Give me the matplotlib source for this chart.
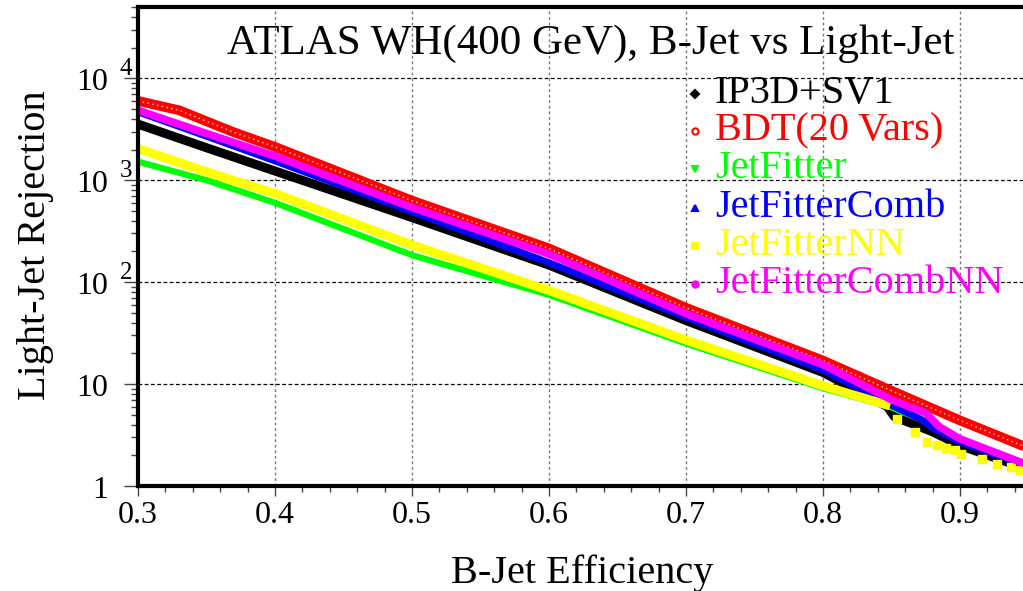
import matplotlib.pyplot as plt
import numpy as np
from matplotlib.ticker import FixedLocator, LogLocator, NullFormatter

plt.rcParams['font.family'] = ['Liberation Serif', 'DejaVu Serif']

# b-tagging performance curves: light-jet rejection vs b-jet efficiency
eff_ip3d = [0.30, 0.35, 0.40, 0.50, 0.60, 0.70, 0.80, 0.847, 0.852, 0.88, 0.90, 0.95]
rej_ip3d = [3550, 2080, 1230, 430, 147, 42, 13.0, 6.0, 4.8, 3.4, 2.5, 1.45]

eff_bdt = [0.30, 0.33, 0.37, 0.40, 0.50, 0.60, 0.70, 0.80, 0.85, 0.90, 0.95]
rej_bdt = [6000, 4850, 2950, 2120, 630, 214, 56, 17, 8.6, 4.4, 2.35]

eff_jf = [0.30, 0.35, 0.40, 0.50, 0.60, 0.70, 0.80, 0.85, 0.873]
rej_jf = [1520, 1000, 600, 184, 75, 25, 9.1, 5.9, 4.4]

eff_jfcomb = [0.30, 0.35, 0.40, 0.50, 0.60, 0.70, 0.80, 0.85, 0.873, 0.88, 0.90, 0.95]
rej_jfcomb = [4680, 2700, 1545, 490, 155, 45, 13.7, 6.2, 4.4, 3.7, 2.7, 1.55]

eff_jfnn = [0.30, 0.35, 0.40, 0.50, 0.60, 0.70, 0.80, 0.849, 0.854, 0.867, 0.876,
            0.883, 0.890, 0.896, 0.901, 0.916, 0.927, 0.937, 0.944]
rej_jfnn = [2040, 1205, 740, 231, 83, 27, 9.6, 6.1, 4.5, 3.4, 2.72,
            2.52, 2.38, 2.25, 2.06, 1.82, 1.64, 1.55, 1.44]

eff_jfcombnn = [0.30, 0.35, 0.40, 0.50, 0.60, 0.70, 0.80, 0.85, 0.875, 0.885, 0.90, 0.95]
rej_jfcombnn = [4850, 2870, 1720, 540, 188, 49, 15.5, 7.0, 5.2, 3.8, 2.9, 1.6]

labels = ['IP3D+SV1', 'BDT(20 Vars)', 'JetFitter', 'JetFitterComb',
          'JetFitterNN', 'JetFitterCombNN']
colors = ['black', '#ff0000', '#00ff00', '#0000ff', '#ffff00', '#ff00ff']
markers = ['D', 'o', 'v', '^', 's', 'o']

x_ticks = [0.3, 0.4, 0.5, 0.6, 0.7, 0.8, 0.9]

fig = plt.figure(figsize=(10.23, 5.91), dpi=100)
ax = fig.add_axes([138 / 1023, 105 / 591, 890.5 / 1023, 479 / 591])

ax.plot(eff_ip3d, rej_ip3d, color=colors[0], lw=6.5, solid_capstyle='butt', zorder=3)
ax.plot(eff_bdt, rej_bdt, color=colors[1], lw=7, solid_capstyle='butt', zorder=3.1)
# hollow centres of the open circle markers
ax.plot(eff_bdt, rej_bdt, color='#ffd0d0', lw=1.0, ls=(0, (1, 2.5)), zorder=3.15)
ax.plot(eff_jf, rej_jf, color=colors[2], lw=4.5, solid_capstyle='butt', zorder=3.2)
ax.plot(eff_jfcomb, rej_jfcomb, color=colors[3], lw=5, solid_capstyle='butt', zorder=3.3)

# JetFitterNN: dense part as a band, sparse tail as single squares
eff_nn = np.array(eff_jfnn)
rej_nn = np.array(rej_jfnn)
dense = eff_nn <= 0.85
ax.plot(eff_nn[dense], rej_nn[dense], color=colors[4], lw=6.5,
        solid_capstyle='butt', zorder=3.4)
ax.plot(eff_nn[~dense], rej_nn[~dense], color=colors[4], ls='none',
        marker='s', ms=6, zorder=3.4)

ax.plot(eff_jfcombnn, rej_jfcombnn, color=colors[5], lw=5.5,
        solid_capstyle='butt', zorder=3.5)

ax.set_yscale('log')
ax.set_xlim(0.3, 0.95)
ax.set_ylim(1, 5e4)

ax.xaxis.set_major_locator(FixedLocator(x_ticks))
ax.xaxis.set_minor_locator(FixedLocator(np.arange(0.30, 0.951, 0.02)))
ax.set_xticklabels([f'{v:.1f}' for v in x_ticks])
ax.yaxis.set_major_locator(FixedLocator([1, 10, 100, 1000, 10000]))
ax.yaxis.set_minor_locator(LogLocator(base=10, subs=np.arange(2, 10)))
ax.yaxis.set_major_formatter(NullFormatter())
ax.yaxis.set_minor_formatter(NullFormatter())

ax.tick_params(axis='x', which='major', direction='out', length=7, width=1,
               color='#444444', labelsize=23, pad=4)
ax.tick_params(axis='x', which='minor', direction='out', length=4.3, width=1,
               color='#444444')
ax.tick_params(axis='y', which='major', direction='out', length=10, width=1,
               color='#444444')
ax.tick_params(axis='y', which='minor', direction='out', length=5, width=1,
               color='#444444')
ax.tick_params(top=False, right=False)

# y labels in ROOT style: "10" with a raised exponent
for val in [1, 10, 100, 1000, 10000]:
    exp = int(round(np.log10(val)))
    base = '1' if exp == 0 else '10'
    ax.annotate(base, xy=(0, val), xycoords=('axes fraction', 'data'),
                xytext=(-21.6, -8.3), textcoords='offset points',
                ha='right', va='baseline', fontsize=23, annotation_clip=False)
    if exp > 1:
        ax.annotate(str(exp), xy=(0, val), xycoords=('axes fraction', 'data'),
                    xytext=(-13, 2.2), textcoords='offset points',
                    ha='left', va='baseline', fontsize=18, annotation_clip=False)

for x in x_ticks[1:]:
    ax.axvline(x, color='#777777', lw=1, ls=(0, (2, 2)), zorder=1)
for y in [10, 100, 1000, 10000]:
    ax.axhline(y, color='black', lw=0.9, ls=(0, (3, 2)), zorder=1)

for side in ['left', 'bottom', 'top', 'right']:
    ax.spines[side].set_linewidth(3)
    ax.spines[side].set_zorder(5)

fig.text(591 / 1023, (591 - 54) / 591, 'ATLAS WH(400 GeV), B-Jet vs Light-Jet',
         ha='center', va='baseline', fontsize=31)
fig.text(582 / 1023, 8 / 591, 'B-Jet Efficiency', ha='center', va='baseline',
         fontsize=29)
fig.text(45 / 1023, (591 - 245) / 591, 'Light-Jet Rejection', ha='center',
         va='baseline', rotation=90, rotation_mode='anchor', fontsize=29)

# legend: marker plus coloured label per series
baselines = [103, 140, 178, 217, 255, 293]
for lab, col, mk, yb in zip(labels, colors, markers, baselines):
    fig.text(715 / 1023, (591 - yb) / 591, lab, color=col, ha='left',
             va='baseline', fontsize=29)
    face = 'white' if lab.startswith('BDT') else col
    ax.plot([695 / 1023], [(591 - yb + 9) / 591], transform=fig.transFigure,
            marker=mk, ms=4.5, color=col, mfc=face, mew=1.5, ls='none',
            clip_on=False, zorder=6)

fig.savefig('out.png', dpi=100)
